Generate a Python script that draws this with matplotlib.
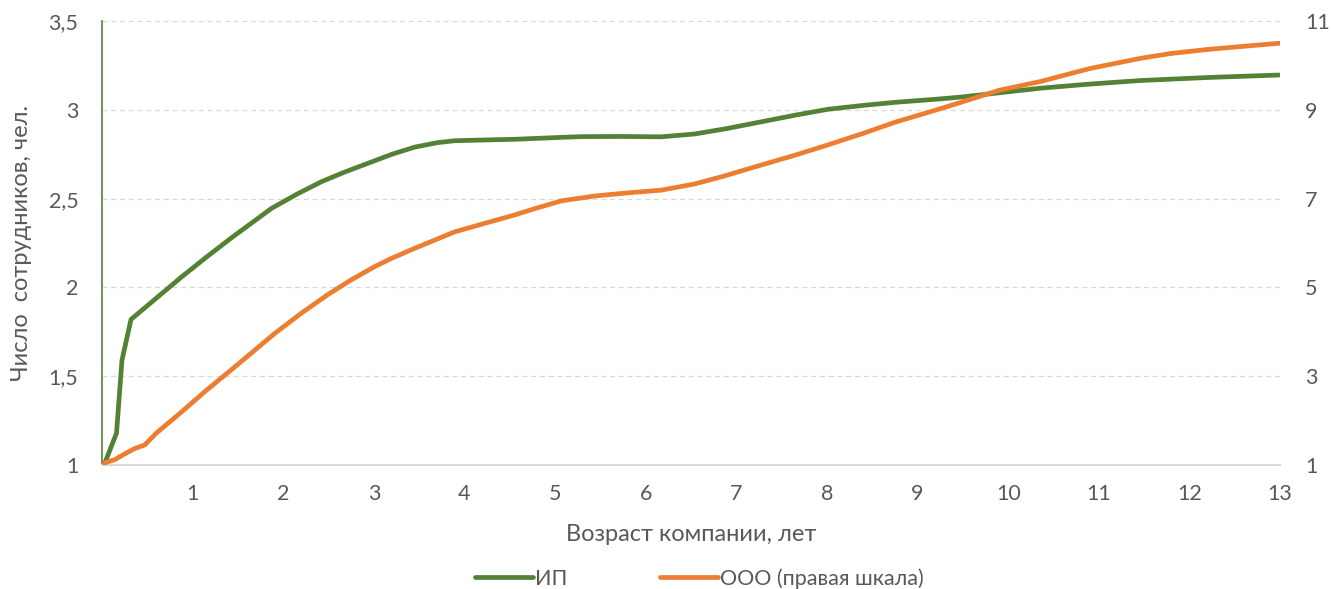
import matplotlib.pyplot as plt
from matplotlib.lines import Line2D

plt.rcParams['font.family'] = ['Lato', 'DejaVu Sans']

# age of company, years (left axis series)
x_ip = [0.03, 0.16, 0.22, 0.32, 0.6, 0.88, 1.15, 1.43, 1.87, 2.15, 2.42,
        2.68, 2.94, 3.2, 3.45, 3.7, 3.89, 4.2, 4.55, 5.07, 5.29, 5.7, 6.17,
        6.54, 6.9, 7.28, 7.65, 8.01, 8.4, 8.75, 9.26, 9.48, 10.36, 10.9,
        11.46, 12.2, 12.99]
ip = [1.01, 1.18, 1.59, 1.82, 1.94, 2.06, 2.17, 2.28, 2.445, 2.525, 2.595,
      2.65, 2.70, 2.75, 2.79, 2.815, 2.826, 2.83, 2.834, 2.845, 2.849, 2.85,
      2.848, 2.864, 2.895, 2.933, 2.97, 3.003, 3.025, 3.042, 3.062, 3.072,
      3.122, 3.145, 3.165, 3.182, 3.196]

# right axis series
x_ooo = [0.03, 0.14, 0.25, 0.36, 0.47, 0.6, 0.88, 1.15, 1.43, 1.91, 2.2,
         2.5, 2.75, 3.01, 3.2, 3.45, 3.89, 4.2, 4.55, 4.8, 5.07, 5.44, 5.8,
         6.17, 6.54, 6.85, 7.28, 7.65, 8.01, 8.4, 8.75, 9.26, 9.48, 9.9,
         10.36, 10.9, 11.46, 11.8, 12.2, 12.99]
ooo = [1.05, 1.12, 1.25, 1.37, 1.45, 1.72, 2.2, 2.68, 3.15, 3.97, 4.42, 4.85,
       5.17, 5.47, 5.66, 5.88, 6.25, 6.43, 6.63, 6.79, 6.95, 7.06, 7.13, 7.19,
       7.33, 7.5, 7.76, 7.98, 8.21, 8.47, 8.72, 9.03, 9.17, 9.44, 9.64,
       9.93, 10.16, 10.27, 10.36, 10.5]

green = '#548235'
orange = '#ED7D31'
txt = '#595959'

fig = plt.figure(figsize=(13.32, 5.89), dpi=100)
ax = fig.add_axes([0.0766, 0.2105, 0.8844, 0.7538])
ax2 = ax.twinx()

ax.plot(x_ip, ip, color=green, lw=3.4, solid_capstyle='round',
        solid_joinstyle='round', zorder=3)
ax2.plot(x_ooo, ooo, color=orange, lw=3.4, solid_capstyle='round',
         solid_joinstyle='round', zorder=3)

ax.set_xlim(0, 13)
ax.set_ylim(1, 3.5)
ax2.set_ylim(1, 11)
ax.set_xticks(range(1, 14))
ax.set_yticks([1, 1.5, 2, 2.5, 3, 3.5])
ax.set_yticklabels(['1', '1,5', '2', '2,5', '3', '3,5'])
ax2.set_yticks([1, 3, 5, 7, 9, 11])

for a in (ax, ax2):
    for s in a.spines.values():
        s.set_visible(False)
    a.tick_params(length=0, labelsize=15.5, colors=txt)
ax.tick_params(axis='y', pad=17)
ax2.tick_params(axis='y', pad=18)
ax.tick_params(axis='x', pad=14)

ax.spines['left'].set_visible(True)
ax.spines['left'].set_color(green)
ax.spines['left'].set_linewidth(1.2)
ax.spines['bottom'].set_visible(True)
ax.spines['bottom'].set_color('#d9d9d9')
ax.spines['bottom'].set_linewidth(1.5)

for v in [1.5, 2, 2.5, 3, 3.5]:
    ax.axhline(v, color='#d9d9d9', lw=0.9, ls=(0, (4, 3)), zorder=1)

ax.set_ylabel('Число  сотрудников, чел.', fontsize=17, color=txt, labelpad=12)
ax.set_xlabel('Возраст компании, лет', fontsize=17, color=txt, labelpad=14)

handles = [Line2D([], [], color=green, lw=3.4, solid_capstyle='round'),
           Line2D([], [], color=orange, lw=3.4, solid_capstyle='round')]
fig.legend(handles, ['ИП', 'ООО (правая шкала)'], loc='center',
           bbox_to_anchor=(0.525, 0.018), ncol=2, frameon=False, fontsize=15.5,
           labelcolor=txt, handlelength=2.7, handletextpad=0.1,
           columnspacing=4.3)

fig.savefig('out.png', dpi=100)
